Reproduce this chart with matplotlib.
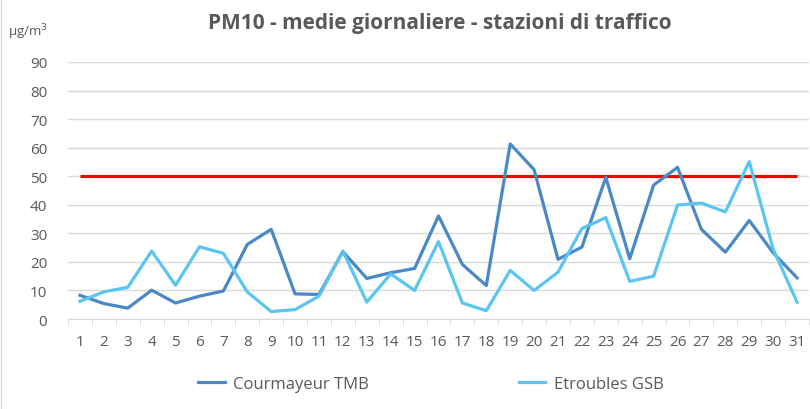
import matplotlib
matplotlib.use("Agg")
import matplotlib.pyplot as plt
from matplotlib.lines import Line2D

# ---------- DATA ----------
days = list(range(1, 32))
courmayeur = [8.3, 5.4, 3.8, 10.1, 5.6, 8.0, 9.8, 26.1, 31.4, 8.8,
              8.6, 23.6, 14.2, 16.2, 17.7, 36.1, 19.1, 11.7, 61.3, 52.3,
              20.9, 25.2, 49.6, 21.1, 46.9, 53.1, 31.4, 23.4, 34.5, 23.2, 14.4]
etroubles = [6.2, 9.5, 11.1, 23.8, 11.8, 25.3, 23.0, 9.5, 2.6, 3.3,
             8.0, 23.8, 5.9, 15.8, 10.0, 27.1, 5.6, 2.9, 17.0, 10.0,
             16.4, 31.7, 35.5, 13.2, 15.0, 39.9, 40.6, 37.5, 55.1, 24.5, 5.9]
limit = [50] * len(days)
series_names = ["Courmayeur TMB", "Etroubles GSB"]
y_ticks = list(range(0, 100, 10))

TXT = "#595959"
C_DARK = "#4A88C6"
C_LIGHT = "#5BC5F2"

plt.rcParams["font.family"] = ["Open Sans", "DejaVu Sans"]

fig = plt.figure(figsize=(8.1, 4.1), dpi=100)
ax = fig.add_axes([68 / 810, 1 - 320 / 410, 741 / 810, 257 / 410])

ax.plot(days, limit, color="#FF0000", lw=2.3, solid_capstyle="butt", zorder=3)
ax.plot(days, courmayeur, color=C_DARK, lw=2.3, zorder=4)
ax.plot(days, etroubles, color=C_LIGHT, lw=2.3, zorder=4)

ax.set_xlim(0.5, 31.5)
ax.set_ylim(0, 90)
ax.set_yticks(y_ticks)
ax.set_xticks(days)
ax.set_xticks([d + 0.5 for d in [0] + days], minor=True)
ax.grid(axis="y", color="#D9D9D9", lw=1)
ax.set_axisbelow(True)
for s in ["top", "right", "left"]:
    ax.spines[s].set_visible(False)
ax.spines["bottom"].set_color("#D9D9D9")
ax.tick_params(axis="y", length=0, pad=15, labelsize=11, labelcolor=TXT)
ax.tick_params(axis="x", which="major", length=0, pad=11, labelsize=11, labelcolor=TXT)
ax.tick_params(axis="x", which="minor", length=4, color="#D9D9D9")

fig.text(440 / 810, 1 - 24 / 410, "PM10 - medie giornaliere - stazioni di traffico",
         ha="center", va="center", fontsize=15, fontweight="bold", color=TXT)
fig.text(8 / 810, 1 - 32 / 410, "µg/m$^3$", ha="left", va="center",
         fontsize=9.5, color=TXT)

handles = [Line2D([], [], color=C_DARK, lw=2.3), Line2D([], [], color=C_LIGHT, lw=2.3)]
fig.legend(handles, series_names, loc="center left", bbox_to_anchor=(183 / 810, 1 - 385 / 410),
           ncol=2, frameon=False, fontsize=12, labelcolor=TXT, columnspacing=9.0,
           handlelength=1.6, handletextpad=0.5)

fig.add_artist(Line2D([0.5 / 810, 0.5 / 810], [0, 1], color="#D9D9D9", lw=1))

fig.savefig("out.png", dpi=100)
